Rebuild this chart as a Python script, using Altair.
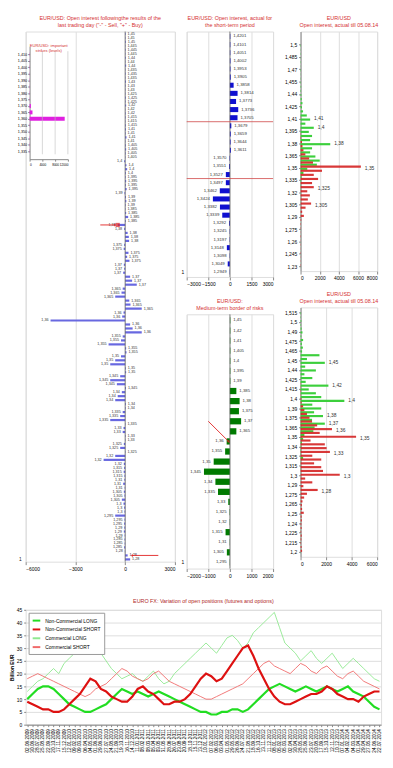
import altair as alt
import pandas as pd

FONT = "Liberation Sans"
RED = "#d43030"
GRID = "#bdbdbd"

# ---------------- left panel: open interest after the last trading day ----------------
left_strikes = ["1,45", "1,445", "1,44", "1,435", "1,43", "1,425", "1,42", "1,415", "1,41", "1,405",
                "1,4", "1,395", "1,39", "1,385", "1,38", "1,375", "1,37", "1,365", "1,36", "1,355",
                "1,35", "1,345", "1,34", "1,335", "1,33", "1,325", "1,32", "1,315", "1,31", "1,305",
                "1,3", "1,295", "1,29", "1,285", "1,28"]
left_values = [[30, 20, 40], [20, 30, 20], [40, 20, 60], [20, 30, 20], [50, 30, 20], [20, 40, 30],
               [60, 20, 30], [30, 20, 40], [50, 30, 80, 20], [40, 60, 30, 20], [-60, 80, 120, 40],
               [30, 60, 40, 90], [-40, 50, 70, 30], [20, 60, 180, 40], [-450, -60, 150, 220, 240],
               [-60, -90, 200, 120, 260], [-80, -60, -120, 300, 420, 700], [-150, -220, -600, 250, 320, 1000],
               [-100, -180, -4500, 300, 450, 1000], [-150, -250, -1000, 60, 80], [-250, -600, -900, 40, 60],
               [-300, -900, -500, 50], [-200, -450, -600, 40, 30], [-150, -300, -900, 20], [-100, -150, 30, 20],
               [-80, -300, 20], [-600, -1300, -80], [-60, -90, -40], [-50, -120, -30], [-80, -40, -200],
               [-100, -60, -40], [-600, -40, -60], [-50, -80, -30], [-40, -30, -60], [-20, 150, 300]]
left_marked = "1,38"
# annotation arrows (start value, end value) on the marked row and on the last strike row
left_arrow_top = (-1500, -620)
left_arrow_bottom = (2000, 420)

# inset: important strikes (levels)
inset_levels = [1.410, 1.405, 1.400, 1.395, 1.390, 1.385, 1.380, 1.375, 1.370, 1.365, 1.360, 1.355,
                1.350, 1.345, 1.340, 1.335]
inset_values = [60, 50, 60, 50, 60, 50, 60, 50, 400, 900, 11000, 60, 50, 60, 50, 60]
inset_grid = [4000, 8000, 12000]

# ---------------- middle top: short-term period ----------------
mt_levels = ["1,4201", "1,4101", "1,4051", "1,4002", "1,3953", "1,3905", "1,3858", "1,3814", "1,3773",
             "1,3736", "1,3705", "1,3679", "1,3659", "1,3644", "1,3611", "1,3570", "1,3551", "1,3527",
             "1,3497", "1,3462", "1,3424", "1,3382", "1,3339", "1,3292", "1,3245", "1,3197", "1,3148",
             "1,3098", "1,3049", "1,2949"]
mt_values = [30, 30, 30, 40, 40, 60, 260, 535, 430, 580, 530, 100, 60, 50, 70, -30, -60, -280, -280,
             -700, -1180, -690, -530, -60, -20, -20, -210, -20, -150, -20]
mt_borders = ["1,3705", "1,3527"]

# ---------------- middle bottom: medium-term border of risks ----------------
mb_levels = ["1,45", "1,42", "1,41", "1,405", "1,4", "1,395", "1,39", "1,385", "1,38", "1,375", "1,37",
             "1,365", "1,36", "1,355", "1,35", "1,345", "1,34", "1,335", "1,33", "1,325", "1,32", "1,315",
             "1,31", "1,305", "1,295"]
mb_values = [20, 20, 20, 20, 20, 20, 20, 300, 450, 420, 520, 300, -150, -220, -750, -1200, -670, -550,
             -75, -15, -10, -200, -10, -140, -10]

# ---------------- right top: open interest till 05.08.14 ----------------
rt_strikes = [1.5, 1.495, 1.49, 1.485, 1.48, 1.475, 1.47, 1.465, 1.46, 1.455, 1.45, 1.445, 1.44, 1.435,
              1.43, 1.425, 1.42, 1.415, 1.41, 1.405, 1.4, 1.395, 1.39, 1.385, 1.38, 1.375, 1.37, 1.365,
              1.36, 1.355, 1.35, 1.345, 1.34, 1.335, 1.33, 1.325, 1.32, 1.315, 1.31, 1.305, 1.3, 1.295,
              1.29, 1.285, 1.28, 1.275, 1.27, 1.265, 1.26, 1.255, 1.25, 1.245, 1.24, 1.235, 1.23]
rt_calls = [40, 20, 30, 20, 30, 20, 40, 20, 30, 40, 60, 50, 80, 120, 200, 150, 260, 650, 1000, 500,
            1380, 860, 1200, 1000, 3100, 1200, 1000, 1550, 2000, 1700, 700, 300, 100, 60, 40, 30, 20, 20,
            20, 10, 10, 10, 10, 10, 10, 10, 10, 10, 10, 10, 10, 10, 10, 10, 10]
rt_puts = [0, 0, 0, 0, 0, 0, 0, 0, 0, 0, 0, 0, 0, 0, 0, 20, 0, 0, 20, 0, 0, 20, 30, 60, 150, 200, 300,
           500, 900, 1300, 6300, 2240, 1380, 1830, 1200, 1380, 700, 970, 760, 1100, 520, 170, 345, 70,
           40, 30, 20, 40, 20, 30, 20, 30, 20, 20, 30]
rt_labels = [1.41, 1.4, 1.38, 1.35, 1.325, 1.305]
rt_ticks = [1.5, 1.485, 1.47, 1.455, 1.44, 1.425, 1.41, 1.395, 1.38, 1.365, 1.35, 1.335, 1.32, 1.305,
            1.29, 1.275, 1.26, 1.245, 1.23]

# ---------------- right bottom: open interest till 05.08.14 ----------------
rb_strikes = [1.515, 1.51, 1.505, 1.5, 1.495, 1.49, 1.485, 1.48, 1.475, 1.47, 1.465, 1.46, 1.455, 1.45,
              1.445, 1.44, 1.435, 1.43, 1.425, 1.42, 1.415, 1.41, 1.405, 1.4, 1.395, 1.39, 1.385, 1.38,
              1.375, 1.37, 1.365, 1.36, 1.355, 1.35, 1.345, 1.34, 1.335, 1.33, 1.325, 1.32, 1.315, 1.31,
              1.305, 1.3, 1.295, 1.29, 1.285, 1.28, 1.275, 1.27, 1.265, 1.26, 1.255, 1.25, 1.245, 1.24,
              1.235, 1.23, 1.225, 1.22, 1.215, 1.21, 1.205, 1.2]
rb_calls = [40, 30, 60, 40, 80, 150, 60, 200, 100, 180, 120, 1480, 500, 1900, 360, 1200, 300, 920, 400,
            2180, 640, 1200, 1620, 3430, 920, 1620, 1060, 1760, 900, 1900, 1100, 1000, 300, 200, 100, 60,
            40, 30, 200, 20, 20, 20, 10, 10, 10, 10, 10, 10, 10, 10, 10, 10, 10, 10, 10, 10, 10, 10, 10,
            10, 10, 10, 10, 10]
rb_puts = [0, 0, 0, 0, 0, 0, 0, 0, 0, 0, 0, 0, 0, 0, 0, 0, 0, 0, 0, 20, 20, 30, 20, 60, 80, 200, 300,
           500, 700, 900, 1300, 2460, 1500, 4350, 780, 1900, 2040, 2300, 920, 1620, 1060, 1620, 1760,
           3070, 360, 920, 220, 1340, 500, 280, 150, 100, 120, 250, 80, 100, 60, 80, 50, 90, 60, 40, 80,
           120]
rb_labels = [1.45, 1.42, 1.4, 1.38, 1.37, 1.36, 1.35, 1.33, 1.3, 1.28]
rb_tick_labels = ["1,515", "1,5", "1,49", "1,475", "1,465", "1,45", "1,44", "1,425", "1,415", "1,4",
                  "1,39", "1,375", "1,365", "1,35", "1,34", "1,325", "1,315", "1,3", "1,29", "1,275",
                  "1,265", "1,25", "1,24", "1,225", "1,215", "1,2"]

# ---------------- bottom: EURO FX open positions ----------------
series_names = ["Non-Commercial LONG", "Non-Commercial SHORT", "Commercial LONG", "Commercial SHORT"]
series_colors = ["#22dd22", "#dd1111", "#8fe88f", "#f06a6a"]
nc_long = [10, 12, 14, 15, 15, 14, 12, 10, 8, 7, 6, 5, 5, 6, 7, 8, 10, 12, 14, 13, 12, 13, 12, 11, 12,
           13, 12, 11, 10, 9, 8, 7, 6, 5, 5, 4, 4, 5, 5, 6, 6, 5, 6, 8, 10, 12, 14, 15, 16, 15, 14, 13,
           14, 15, 14, 13, 14, 15, 14, 13, 14, 15, 13, 12, 11, 9, 7, 6]
nc_short = [9, 8, 7, 6, 6, 5, 5, 6, 8, 10, 12, 15, 18, 17, 14, 13, 11, 10, 9, 9, 11, 14, 15, 13, 12,
            10, 8, 8, 9, 9, 10, 12, 15, 18, 20, 19, 17, 18, 21, 24, 27, 30, 31, 27, 22, 18, 14, 11, 9, 8,
            8, 9, 10, 11, 12, 12, 13, 15, 14, 12, 11, 10, 10, 9, 11, 12, 13, 13]
c_long = [13, 15, 17, 18, 20, 22, 20, 24, 26, 28, 30, 34, 35, 32, 28, 25, 22, 20, 18, 19, 20, 18, 17,
          19, 21, 18, 16, 17, 20, 22, 24, 26, 28, 30, 32, 30, 28, 31, 34, 35, 33, 30, 32, 36, 38, 40, 42,
          44, 38, 32, 30, 28, 25, 27, 29, 26, 24, 26, 28, 25, 22, 24, 26, 24, 22, 20, 18, 17]
c_short = [18, 19, 20, 19, 18, 17, 16, 15, 14, 13, 12, 11, 12, 14, 15, 16, 18, 20, 22, 21, 19, 18, 17,
           18, 20, 21, 19, 17, 16, 15, 14, 13, 12, 11, 10, 10, 11, 12, 13, 14, 15, 16, 18, 20, 22, 24,
           25, 23, 22, 21, 20, 22, 24, 23, 21, 20, 22, 23, 21, 19, 18, 20, 21, 19, 17, 16, 15, 14]
bt_dates = pd.date_range("2009-06-02", periods=len(nc_long), freq="28D").strftime("%d.%m.%Y").tolist()


def ttl(lines, size=5.5):
    return alt.TitleParams(text=lines, color=RED, fontSize=size, font=FONT, fontWeight="normal",
                           offset=3, lineHeight=7, anchor="middle")


def comma(v):
    return str(round(v, 4)).replace(".", ",")


# ======== left panel ========
W_L, H_L = 152, 540
rows = []
for s, vals in zip(left_strikes, left_values):
    for v in vals:
        rows.append({"row": len(rows), "strike": s, "v": v})
left_df = pd.DataFrame(rows)
last_row = len(rows) - 1
mark_row = int(left_df[left_df.strike == left_marked].iloc[0].row)
mark_df = pd.DataFrame([{"row": mark_row, "v": int(left_df.loc[mark_row, "v"])}])
one_df = pd.DataFrame([{"row": last_row, "v": -6000, "t": "1"}])
la_df = pd.DataFrame([
    {"row": mark_row, "v": left_arrow_top[0], "v2": left_arrow_top[1], "ang": 90},
    {"row": last_row - 1, "v": left_arrow_bottom[0], "v2": left_arrow_bottom[1], "ang": 270},
])

lx_vals = [-6000, -3000, 0, 3000]
lxsc = alt.Scale(domain=[-6000, 3000], nice=False)
lxax = alt.Axis(values=lx_vals, tickCount=len(lx_vals), format="d", title=None, grid=True, tickSize=3,
                labelFontSize=5, domain=False, labelOverlap=False, orient="bottom")
lx = alt.X("v:Q", scale=lxsc, axis=lxax)
ly = alt.Y("row:O", scale=alt.Scale(paddingInner=0.45, paddingOuter=0.3), axis=None)
lbase = alt.Chart(left_df)
l_bars = lbase.mark_bar(color="#6868e0").encode(x=lx, y=ly)
l_tpos = lbase.transform_filter("datum.v >= 0").mark_text(
    align="left", dx=2, fontSize=3.8, font=FONT, color="#333").encode(x=lx, y=ly, text="strike:N")
l_tneg = lbase.transform_filter("datum.v < 0").mark_text(
    align="right", dx=-2, fontSize=3.8, font=FONT, color="#333").encode(x=lx, y=ly, text="strike:N")
l_zero = alt.Chart(pd.DataFrame({"v": [0]})).mark_rule(color="#555", strokeWidth=0.7).encode(x=lx)
l_mark = alt.Chart(mark_df).mark_point(shape="square", filled=True, color="#e02020", size=18).encode(
    x=lx, y=ly)
l_one = alt.Chart(one_df).mark_text(align="right", dx=-4, fontSize=5, font=FONT, color="#222").encode(
    x=lx, y=ly, text="t:N")
l_arr = alt.Chart(la_df).mark_rule(color="#e02020", strokeWidth=0.9).encode(x=lx, x2="v2", y=ly)
l_head = alt.Chart(la_df).mark_point(shape="triangle", filled=True, color="#e02020", size=9).encode(
    x=alt.X("v2:Q", scale=lxsc, axis=lxax), y=ly, angle=alt.Angle("ang:Q", scale=None))
left_main = alt.layer(l_bars, l_zero, l_tpos, l_tneg, l_arr, l_head, l_mark, l_one)

IN_TOP, IN_BOT, IN_L, IN_R = 15, 130, 4, 43
inset_df = pd.DataFrame({"s": inset_levels, "v": inset_values})
ix_vals = [0, 4000, 8000, 12000]
ix = alt.X("v:Q", scale=alt.Scale(domain=[0, 12000], range=[IN_L, IN_R], nice=False),
           axis=alt.Axis(values=ix_vals, tickCount=len(ix_vals), format="d", orient="bottom",
                         offset=-(H_L - IN_BOT), grid=False, title=None, labelFontSize=3.2, tickSize=2,
                         labelPadding=1, labelOverlap=False))
iy = alt.Y("s:Q", scale=alt.Scale(domain=[1.3325, 1.4125], range=[IN_BOT, IN_TOP], nice=False, zero=False),
           axis=alt.Axis(values=inset_levels, tickCount=len(inset_levels), orient="left", offset=-IN_L,
                         grid=False, title=None, labelFontSize=3.8, tickSize=2, labelPadding=1,
                         labelOverlap=False, labelExpr="replace(format(datum.value, '.3f'), '.', ',')"))
in_bars = alt.Chart(inset_df).mark_bar(orient="horizontal", size=4, color="#e020e0").encode(x=ix, y=iy)
ig_df = pd.DataFrame({"v": inset_grid, "s": [inset_levels[-1] - 0.0025] * len(inset_grid),
                      "s2": [inset_levels[0] + 0.0025] * len(inset_grid)})
in_grid = alt.Chart(ig_df).mark_rule(color=GRID, strokeWidth=0.6).encode(x=ix, y=iy, y2="s2")
it_df = pd.DataFrame({"v": [6000], "s": [inset_levels[0] + 0.0065], "t": ["EUR/USD: important\nstrikes (levels)"]})
in_title = alt.Chart(it_df).mark_text(fontSize=4.2, color=RED, font=FONT, lineBreak="\n", lineHeight=5).encode(
    x=ix, y=iy, text="t:N")
inset = alt.layer(in_bars, in_grid, in_title)

left = alt.layer(left_main, inset).resolve_scale(x="independent", y="independent").resolve_axis(
    x="independent", y="independent").properties(
    width=W_L, height=H_L,
    title=ttl(["EUR/USD: Open interest followingthe results of the", 'last trading day ("-" - Sell, "+" - Buy)']))


# ======== middle panels ========
def level_panel(levels, values, color, xmax, xticks, W, H, title, borders=None, arrow=None):
    df = pd.DataFrame({"lv": levels, "v": values})
    ysc = alt.Scale(domain=levels, paddingInner=0.38, paddingOuter=0.3)
    yax = alt.Axis(title=None, ticks=False, domain=False, labelFontSize=5, labelPadding=3, orient="left",
                   labelExpr=f"datum.value == '{levels[-1]}' ? '1' : ''")
    y = alt.Y("lv:N", scale=ysc, axis=yax)
    xsc = alt.Scale(domain=[-xmax, xmax], nice=False)
    xax = alt.Axis(values=xticks, tickCount=len(xticks), format="d", title=None, grid=True, tickSize=3,
                   labelFontSize=5, domain=False, labelOverlap=False, orient="bottom")
    x = alt.X("v:Q", scale=xsc, axis=xax)
    base = alt.Chart(df)
    bars = base.mark_bar(color=color).encode(x=x, y=y)
    zero = alt.Chart(pd.DataFrame({"v": [0]})).mark_rule(color="#555", strokeWidth=0.7).encode(x=x)
    tp = base.transform_filter("datum.v >= 0").mark_text(align="left", dx=3, fontSize=4.4, font=FONT,
                                                        color="#333").encode(x=x, y=y, text="lv:N")
    tn = base.transform_filter("datum.v < 0").mark_text(align="right", dx=-3, fontSize=4.4, font=FONT,
                                                       color="#333").encode(x=x, y=y, text="lv:N")
    layers = [bars, zero, tp, tn]
    if borders:
        bdf = pd.DataFrame({"lv": borders})
        layers.append(alt.Chart(bdf).mark_rule(color="#d04848", strokeWidth=0.8, yOffset=1.5).encode(
            y=alt.Y("lv:N", scale=ysc, axis=yax, bandPosition=1)))
    if arrow:
        adf = pd.DataFrame([arrow])
        layers.append(alt.Chart(adf).mark_rule(color="#e02020", strokeWidth=0.9).encode(
            x=x, x2="v2", y=y, y2="lv2"))
        layers.append(alt.Chart(adf).mark_point(shape="triangle", filled=True, color="#e02020", size=10,
                                                angle=135).encode(
            x=alt.X("v2:Q", scale=xsc, axis=xax), y=alt.Y("lv2:N", scale=ysc, axis=yax)))
    return alt.layer(*layers).properties(width=W, height=H, title=ttl(title))


W_M = 88
mid_top = level_panel(mt_levels, mt_values, "#1010d0", 3000, [-3000, -1500, 0, 1500, 3000], W_M, 250,
                      ["EUR/USD: Open interest, actual for", "the short-term period"], borders=mt_borders)
mid_bot = level_panel(mb_levels, mb_values, "#007a00", 2000, [-2000, -1000, 0, 1000, 2000], W_M, 259,
                      ["EUR/USD:", "Medium-term border of risks"],
                      arrow={"v": -1000, "v2": -60, "lv": "1,37", "lv2": "1,36"})


# ======== right panels ========
def oi_panel(strikes, calls, puts, ann, xmax, xticks, ydom, yaxis, W, H, title):
    df = pd.DataFrame({"s": strikes, "c": calls, "p": puts})
    y = alt.Y("s:Q", scale=alt.Scale(domain=ydom, nice=False, zero=False), axis=yaxis)
    xax = alt.Axis(values=xticks, tickCount=len(xticks), format="d", title=None, grid=True, tickSize=3,
                   labelFontSize=5, domain=False, labelOverlap=False, orient="bottom")
    xsc = alt.Scale(domain=[0, xmax], nice=False)
    base = alt.Chart(df)
    gc = base.mark_bar(orient="horizontal", size=2.2, color="#3ccf3c", yOffset=1.1).encode(
        x=alt.X("c:Q", scale=xsc, axis=xax), y=y)
    rp = base.mark_bar(orient="horizontal", size=2.2, color="#d42222", opacity=0.9, yOffset=-1.1).encode(
        x=alt.X("p:Q", scale=xsc, axis=xax), y=y)
    adf = df[df.s.round(3).isin([round(a, 3) for a in ann])].copy()
    adf["m"] = adf[["c", "p"]].max(axis=1)
    adf["t"] = [comma(v) for v in adf.s]
    txt = alt.Chart(adf).mark_text(align="left", dx=4, fontSize=5, font=FONT, color="#333").encode(
        x=alt.X("m:Q", scale=xsc, axis=xax), y=y, text="t:N")
    return alt.layer(gc, rp, txt).properties(width=W, height=H, title=ttl(title))


W_R = 78
rt_axis = alt.Axis(values=rt_ticks, tickCount=len(rt_ticks), title=None, grid=False, tickSize=2, labelFontSize=5,
                   labelPadding=2, orient="left", labelOverlap=False,
                   labelExpr="replace(format(datum.value, '.3~f'), '.', ',')")
rb_step = (1.515 - 1.2) / (len(rb_tick_labels) - 1)
rb_pos = [1.515 - rb_step * k for k in range(len(rb_tick_labels))]
rb_arr = "[" + ",".join(f"'{t}'" for t in rb_tick_labels) + "]"
rb_axis = alt.Axis(values=rb_pos, tickCount=len(rb_pos), title=None, grid=False, tickSize=2, labelFontSize=5,
                   labelPadding=2, orient="left", labelOverlap=False,
                   labelExpr=f"{rb_arr}[round((1.515 - datum.value) / {rb_step})]")
right_top = oi_panel(rt_strikes, rt_calls, rt_puts, rt_labels, 8000, [0, 2000, 4000, 6000, 8000],
                     [1.23, 1.51], rt_axis, W_R, 244, ["EUR/USD", "Open interest, actual till 05.08.14"])
right_bot = oi_panel(rb_strikes, rb_calls, rb_puts, rb_labels, 6000, [0, 2000, 4000, 6000],
                     [1.2, 1.515], rb_axis, W_R, 254, ["EUR/USD", "Open interest, actual till 05.08.14"])

# ======== bottom panel ========
bt_rows = []
for name, vals in zip(series_names, [nc_long, nc_short, c_long, c_short]):
    for d, v in zip(bt_dates, vals):
        bt_rows.append({"d": d, "v": v, "series": name})
bt_df = pd.DataFrame(bt_rows)
by_vals = list(range(0, 50, 5))
bx = alt.X("d:O", sort=bt_dates, scale=alt.Scale(type="point", padding=0.3),
           axis=alt.Axis(title=None, labelAngle=-90, labelFontSize=4.8, tickSize=2, grid=False, labelPadding=2,
                         labelOverlap=False))
by = alt.Y("v:Q", scale=alt.Scale(domain=[0, 45], nice=False),
           axis=alt.Axis(values=by_vals, tickCount=len(by_vals), title="Billion EUR", titleFontSize=5,
                         labelFontSize=5, titlePadding=2, grid=True, tickSize=2, domain=False, labelOverlap=False))
bcolor = alt.Color("series:N", scale=alt.Scale(domain=series_names, range=series_colors),
                   legend=alt.Legend(title=None, orient="top-left", offset=3, labelFontSize=5, symbolType="stroke",
                                     symbolStrokeWidth=2, symbolSize=60, rowPadding=0, padding=3,
                                     fillColor="white", strokeColor="#999", labelFont=FONT))
thin = alt.Chart(bt_df).transform_filter("indexof(datum.series, 'Non') < 0").mark_line(strokeWidth=0.9).encode(
    x=bx, y=by, color=bcolor)
thick = alt.Chart(bt_df).transform_filter("indexof(datum.series, 'Non') == 0").mark_line(strokeWidth=2.2).encode(
    x=bx, y=by, color=bcolor)
bottom = alt.layer(thin, thick).properties(
    width=362, height=117,
    title=alt.TitleParams("EURO FX: Variation of open positions (futures and options)", color="#b02828",
                          fontSize=5.5, font=FONT, fontWeight="normal", offset=3))

left_mid = alt.hconcat(left, alt.vconcat(mid_top, mid_bot, spacing=10), spacing=4)
top_row = alt.hconcat(left_mid, alt.vconcat(right_top, right_bot, spacing=10), spacing=9)
chart = alt.vconcat(top_row, bottom, spacing=20).resolve_scale(color="independent").resolve_legend(
    color="independent").configure_view(stroke="#a0a0a0", strokeWidth=0.8).configure_axis(
    labelFont=FONT, titleFont=FONT, labelColor="#222", tickColor="#777", domainColor="#777",
    gridColor=GRID, gridWidth=0.6, labelOverlap=False, labelBound=False).configure(padding=0)

chart.save("out.html", embed_options={"renderer": "svg", "actions": False})
